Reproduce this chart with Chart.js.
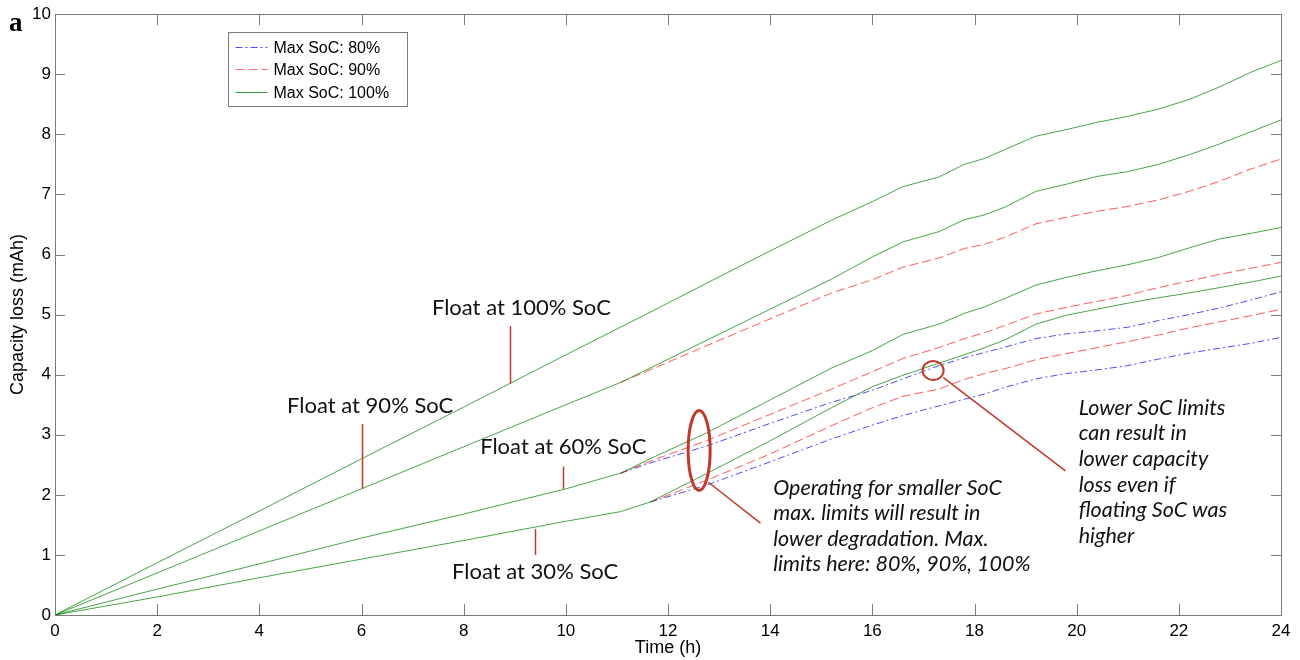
<!DOCTYPE html>
<html>
<head>
<meta charset="utf-8">
<title>Capacity loss vs time</title>
<script src="https://cdn.jsdelivr.net/npm/chart.js@4.4.1/dist/chart.umd.min.js"></script>
<style>
  html, body { margin: 0; padding: 0; background: #fff; }
</style>
</head>
<body>
<canvas id="lossChart" width="1300" height="660"></canvas>
<script>
// time axis (h) shared by every curve; branch curves are null before they split off
var hours = [0, 2, 4, 6, 8, 10, 11.07, 11.65, 12.75, 14, 15.2, 16, 16.6, 17.3, 17.8, 18.2, 18.6, 19.2, 19.8, 20.4, 21, 21.6, 22.2, 22.8, 23.4, 24];

// float at 100% SoC
var f100max100 = [0, 0.87, 1.73, 2.60, 3.46, 4.33, 4.79, 5.04, 5.52, 6.06, 6.57, 6.88, 7.13, 7.29, 7.50, 7.60, 7.75, 7.97, 8.08, 8.20, 8.30, 8.42, 8.58, 8.79, 9.03, 9.23];

// float at 90% SoC
var f90max100 = [0, 0.70, 1.40, 2.10, 2.80, 3.50, 3.87, 4.11, 4.57, 5.09, 5.59, 5.96, 6.21, 6.38, 6.58, 6.66, 6.79, 7.05, 7.17, 7.30, 7.38, 7.50, 7.66, 7.84, 8.04, 8.24];
var f90max90 = [null, null, null, null, null, null, 3.87, 4.08, 4.48, 4.93, 5.36, 5.58, 5.79, 5.94, 6.10, 6.17, 6.29, 6.51, 6.62, 6.72, 6.80, 6.91, 7.05, 7.22, 7.42, 7.59];

// float at 60% SoC
var f60max100 = [0, 0.43, 0.85, 1.28, 1.68, 2.10, 2.36, 2.60, 3.03, 3.58, 4.11, 4.40, 4.67, 4.84, 5.02, 5.13, 5.27, 5.49, 5.62, 5.73, 5.83, 5.95, 6.11, 6.26, 6.35, 6.45];
var f60max90 = [null, null, null, null, null, null, 2.36, 2.56, 2.90, 3.34, 3.76, 4.05, 4.27, 4.45, 4.60, 4.70, 4.82, 5.01, 5.12, 5.22, 5.32, 5.45, 5.56, 5.67, 5.77, 5.87];
var f60max80 = [null, null, null, null, null, null, 2.36, 2.53, 2.81, 3.19, 3.54, 3.74, 3.93, 4.15, 4.28, 4.37, 4.46, 4.60, 4.68, 4.73, 4.79, 4.90, 5.00, 5.11, 5.24, 5.38];

// float at 30% SoC
var f30max100 = [0, 0.30, 0.62, 0.93, 1.24, 1.56, 1.72, 1.88, 2.35, 2.90, 3.45, 3.80, 3.99, 4.19, 4.33, 4.45, 4.58, 4.84, 4.99, 5.09, 5.19, 5.28, 5.36, 5.45, 5.54, 5.64];
var f30max90 = [null, null, null, null, null, null, null, 1.88, 2.24, 2.68, 3.15, 3.45, 3.64, 3.76, 3.92, 4.02, 4.10, 4.25, 4.35, 4.45, 4.55, 4.66, 4.78, 4.88, 4.98, 5.09];
var f30max80 = [null, null, null, null, null, null, null, 1.88, 2.16, 2.55, 2.93, 3.16, 3.32, 3.48, 3.59, 3.68, 3.79, 3.93, 4.02, 4.08, 4.15, 4.26, 4.36, 4.44, 4.52, 4.62];

var legendLabels = ['Max SoC: 80%', 'Max SoC: 90%', 'Max SoC: 100%'];
var xTicks = [0, 2, 4, 6, 8, 10, 12, 14, 16, 18, 20, 22, 24];
var yTicks = [0, 1, 2, 3, 4, 5, 6, 7, 8, 9, 10];

var axisGray = '#7a7a7a';
var noteRed = '#c0392b';
var textFont = '"Liberation Sans", Arial, sans-serif';
var noteFont = 'Lato, "Open Sans", sans-serif';

// one style per max SoC limit
var capStyles = {
  80: { color: 'rgba(0,0,255,0.7)', key: '#4b4bff', dash: [7, 3, 2, 3] },
  90: { color: 'rgba(255,0,0,0.65)', key: '#ff6b6b', dash: [9, 4] },
  100: { color: 'rgba(0,128,0,0.72)', key: '#3a9a3a', dash: [] }
};

var curves = [
  [f100max100, 100], [f90max100, 100], [f60max100, 100], [f30max100, 100],
  [f90max90, 90], [f60max90, 90], [f30max90, 90],
  [f60max80, 80], [f30max80, 80]
];

function toPoints(values) {
  return values.map(function (v, i) { return { x: hours[i], y: v }; });
}

var datasets = curves.map(function (c) {
  var st = capStyles[c[1]];
  return {
    label: 'Max SoC: ' + c[1] + '%',
    data: toPoints(c[0]),
    borderColor: st.color,
    borderDash: st.dash,
    borderWidth: 1,
    pointRadius: 0,
    tension: 0,
    spanGaps: false
  };
});

// box, inward tick marks on all four sides
var boxTicks = {
  id: 'boxTicks',
  afterDraw: function (chart) {
    var ctx = chart.ctx, a = chart.chartArea;
    var xs = chart.scales.x, ys = chart.scales.y;
    ctx.save();
    ctx.strokeStyle = axisGray;
    ctx.lineWidth = 1;
    ctx.setLineDash([]);
    ctx.strokeRect(Math.round(a.left) + 0.5, Math.round(a.top) + 0.5,
      Math.round(a.right - a.left), Math.round(a.bottom - a.top));
    ctx.beginPath();
    xTicks.forEach(function (t) {
      var px = Math.round(xs.getPixelForValue(t)) + 0.5;
      ctx.moveTo(px, a.bottom); ctx.lineTo(px, a.bottom - 11);
      ctx.moveTo(px, a.top); ctx.lineTo(px, a.top + 11);
    });
    yTicks.forEach(function (t) {
      var py = Math.round(ys.getPixelForValue(t)) + 0.5;
      ctx.moveTo(a.left, py); ctx.lineTo(a.left + 10, py);
      ctx.moveTo(a.right, py); ctx.lineTo(a.right - 10, py);
    });
    ctx.stroke();
    ctx.restore();
  }
};

// legend box in the upper left of the plot
var capLegend = {
  id: 'capLegend',
  afterDraw: function (chart) {
    var ctx = chart.ctx;
    var x0 = 228.5, y0 = 32.5, w = 179, h = 74;
    ctx.save();
    ctx.fillStyle = '#fff';
    ctx.fillRect(x0, y0, w, h);
    ctx.strokeStyle = axisGray;
    ctx.lineWidth = 1;
    ctx.strokeRect(x0, y0, w, h);
    ctx.font = '16px ' + textFont;
    ctx.textBaseline = 'middle';
    ctx.textAlign = 'left';
    [80, 90, 100].forEach(function (cap, i) {
      var st = capStyles[cap];
      var y = Math.round(y0 + 14 + i * 22.5) + 0.5;
      ctx.strokeStyle = st.key;
      ctx.lineWidth = 1;
      ctx.setLineDash(st.dash);
      ctx.beginPath();
      ctx.moveTo(x0 + 7, y);
      ctx.lineTo(x0 + 39, y);
      ctx.stroke();
      ctx.setLineDash([]);
      ctx.fillStyle = '#000';
      ctx.fillText(legendLabels[i], x0 + 45, y + 1);
    });
    ctx.restore();
  }
};

// callouts: float labels, ellipse and circle with their notes
var floatNotes = [
  { text: 'Float at 100% SoC', tx: 9.13, ty: 5.11, lx: 8.91, y1: 4.81, y2: 3.85 },
  { text: 'Float at 90% SoC', tx: 6.17, ty: 3.48, lx: 6.0, y1: 3.18, y2: 2.10 },
  { text: 'Float at 60% SoC', tx: 9.95, ty: 2.79, lx: 9.95, y1: 2.47, y2: 2.10 },
  { text: 'Float at 30% SoC', tx: 9.40, ty: 0.71, lx: 9.40, y1: 1.00, y2: 1.43 }
];
var maxNote = ['Operating for smaller SoC', 'max. limits will result in', 'lower degradation. Max.', 'limits here: 80%, 90%, 100%'];
var lowNote = ['Lower SoC limits', 'can result in', 'lower capacity', 'loss even if', 'floating SoC was', 'higher'];

var callouts = {
  id: 'callouts',
  afterDraw: function (chart) {
    var ctx = chart.ctx, xs = chart.scales.x, ys = chart.scales.y;
    function X(v) { return xs.getPixelForValue(v); }
    function Y(v) { return ys.getPixelForValue(v); }
    ctx.save();
    ctx.setLineDash([]);
    ctx.fillStyle = '#111';
    ctx.strokeStyle = noteRed;

    ctx.font = '22px ' + noteFont;
    ctx.textAlign = 'center';
    ctx.textBaseline = 'middle';
    floatNotes.forEach(function (n) {
      ctx.fillText(n.text, X(n.tx), Y(n.ty));
      ctx.lineWidth = 1.5;
      ctx.beginPath();
      ctx.moveTo(Math.round(X(n.lx)) + 0.5, Y(n.y1));
      ctx.lineTo(Math.round(X(n.lx)) + 0.5, Y(n.y2));
      ctx.stroke();
    });

    // ellipse around the branches at 12.6 h
    ctx.lineWidth = 3;
    ctx.beginPath();
    ctx.ellipse(X(12.61), Y(2.74), 11, 40, 0, 0, Math.PI * 2);
    ctx.stroke();
    ctx.lineWidth = 1.5;
    ctx.beginPath();
    ctx.moveTo(X(12.79), Y(2.21));
    ctx.lineTo(X(13.81), Y(1.53));
    ctx.stroke();

    // circle where the curves cross near 17.2 h
    ctx.lineWidth = 2;
    ctx.beginPath();
    ctx.ellipse(X(17.19), Y(4.07), 10.5, 9.5, 0, 0, Math.PI * 2);
    ctx.stroke();
    ctx.lineWidth = 1.5;
    ctx.beginPath();
    ctx.moveTo(X(17.39), Y(3.95));
    ctx.lineTo(X(19.78), Y(2.40));
    ctx.stroke();

    ctx.font = 'italic 21.5px ' + noteFont;
    ctx.textAlign = 'left';
    maxNote.forEach(function (line, i) {
      ctx.fillText(line, X(14.06), Y(2.12) + i * 25.6);
    });
    lowNote.forEach(function (line, i) {
      ctx.fillText(line, X(20.04), Y(3.45) + i * 25.7);
    });

    // panel letter
    ctx.font = 'bold 27px "Liberation Serif", "DejaVu Serif", serif';
    ctx.fillStyle = '#000';
    ctx.textAlign = 'left';
    ctx.textBaseline = 'alphabetic';
    ctx.fillText('a', 9, 31);
    ctx.restore();
  }
};

Chart.defaults.font.family = textFont;
Chart.defaults.color = '#000';

new Chart(document.getElementById('lossChart').getContext('2d'), {
  type: 'line',
  data: { datasets: datasets },
  options: {
    responsive: false,
    animation: false,
    events: [],
    layout: { padding: { left: 0, right: 19, top: 12, bottom: 0 } },
    plugins: {
      legend: { display: false },
      tooltip: { enabled: false }
    },
    scales: {
      x: {
        type: 'linear',
        min: 0,
        max: 24,
        afterBuildTicks: function (s) { s.ticks = xTicks.map(function (v) { return { value: v }; }); },
        afterFit: function (s) { s.height = 45; },
        grid: { display: false, drawTicks: false },
        border: { display: false },
        ticks: { autoSkip: false, maxRotation: 0, padding: 6, font: { size: 17 }, color: '#000' },
        title: { display: true, text: 'Time (h)', font: { size: 18 }, padding: { top: 0, bottom: 1 } }
      },
      y: {
        type: 'linear',
        min: 0,
        max: 10,
        afterBuildTicks: function (s) { s.ticks = yTicks.map(function (v) { return { value: v }; }); },
        afterFit: function (s) { s.width = 55; },
        grid: { display: false, drawTicks: false },
        border: { display: false },
        ticks: { padding: 4, font: { size: 17 }, color: '#000' },
        title: { display: true, text: 'Capacity loss (mAh)', font: { size: 18 }, padding: { top: 7, bottom: 0 } }
      }
    }
  },
  plugins: [boxTicks, capLegend, callouts]
});
</script>
</body>
</html>
